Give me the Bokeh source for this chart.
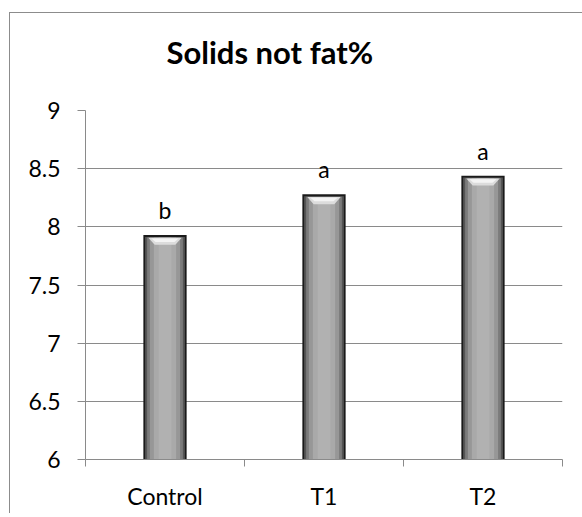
from bokeh.plotting import figure
from bokeh.models import FixedTicker, LabelSet, ColumnDataSource, Range1d
from bokeh.core.properties import value
from bokeh.embed import file_html
from bokeh.resources import INLINE

categories = ["Control", "T1", "T2"]
values = [7.93, 8.28, 8.44]
letters = ["b", "a", "a"]
y_ticks = [6, 6.5, 7, 7.5, 8, 8.5, 9]
title_text = "Solids not fat%"

FONT = "Lato"
GRID = "#8a8a8a"
FRAME_LINE = "#8c8c8c"

xs = [i + 0.5 for i in range(len(categories))]
base = [min(y_ticks)] * len(categories)

p = figure(frame_width=477, frame_height=349, output_backend="svg", toolbar_location=None,
           x_range=Range1d(0, len(categories)), y_range=Range1d(min(y_ticks), max(y_ticks)),
           min_border_left=85, min_border_right=20, min_border_top=119, min_border_bottom=54)
# chart-area border drawn as host background lines (canvas border area is transparent)
p.styles = {
    "margin-top": "-9px",
    "background-image": f"linear-gradient({FRAME_LINE}, {FRAME_LINE}), linear-gradient({FRAME_LINE}, {FRAME_LINE})",
    "background-size": "1px 100%, 100% 1px",
    "background-position": "9px 21px, 9px 21px",
    "background-repeat": "no-repeat",
}
p.outline_line_color = None
p.background_fill_color = "white"
p.border_fill_color = None

p.title.text = title_text
p.title.text_font = FONT
p.title.text_font_size = "31px"
p.title.text_font_style = "bold"
p.title.align = "left"
p.title.offset = 81
p.title.standoff = 79
p.title.text_color = "black"

# bars built from layered vbars to mimic the bevel
layers = [(0.272, 0.0, "#1a1a1a"), (0.25, 0.017, "#555555"), (0.225, 0.022, "#7b7b7b"),
          (0.19, 0.024, "#979797"), (0.14, 0.024, "#a9a9a9"), (0.08, 0.024, "#b1b1b1")]
for w, dt, c in layers:
    p.vbar(x=xs, top=[v - dt for v in values], bottom=base, width=w,
           fill_color=c, line_color=None)

# top highlight trapezoid
hx, hy = [], []
for x, v in zip(xs, values):
    hx.append([x - 0.105, x + 0.105, x + 0.065, x - 0.065])
    hy.append([v - 0.024, v - 0.024, v - 0.085, v - 0.085])
p.patches(hx, hy, fill_color="#dcdcdc", line_color=None)
hx2, hy2 = [], []
for x, v in zip(xs, values):
    hx2.append([x - 0.085, x + 0.085, x + 0.06, x - 0.06])
    hy2.append([v - 0.03, v - 0.03, v - 0.06, v - 0.06])
p.patches(hx2, hy2, fill_color="#f4f4f4", line_color=None)

src = ColumnDataSource(dict(x=xs, y=values, t=letters))
p.add_layout(LabelSet(x="x", y="y", text="t", source=src, y_offset=16,
                      text_align="center", text_baseline="alphabetic",
                      text_font=value(FONT), text_font_size=value("23px"),
                      text_color="black"))

# axes
p.xaxis.ticker = FixedTicker(ticks=xs, minor_ticks=list(range(len(categories) + 1)))
p.xaxis.major_label_overrides = {x: c for x, c in zip(xs, categories)}
p.xaxis.major_tick_out = 0
p.xaxis.major_tick_in = 0
p.xaxis.minor_tick_out = 7
p.xaxis.minor_tick_in = 0
p.xaxis.minor_tick_line_color = GRID
p.xaxis.axis_line_color = GRID
p.xaxis.major_label_standoff = 15
p.xaxis.major_label_text_font = FONT
p.xaxis.major_label_text_font_size = "23px"
p.xaxis.major_label_text_color = "black"

p.yaxis.ticker = FixedTicker(ticks=y_ticks)
p.yaxis.major_label_overrides = {t: f"{t:g}" for t in y_ticks}
p.yaxis.major_tick_out = 8
p.yaxis.major_tick_in = 0
p.yaxis.minor_tick_line_color = None
p.yaxis.major_tick_line_color = GRID
p.yaxis.axis_line_color = GRID
p.yaxis.major_label_standoff = 17
p.yaxis.major_label_text_font = FONT
p.yaxis.major_label_text_font_size = "23px"
p.yaxis.major_label_text_color = "black"

p.xgrid.grid_line_color = None
p.ygrid.grid_line_color = GRID
p.ygrid.grid_line_width = 1

open("out.html", "w").write(file_html(p, INLINE))
